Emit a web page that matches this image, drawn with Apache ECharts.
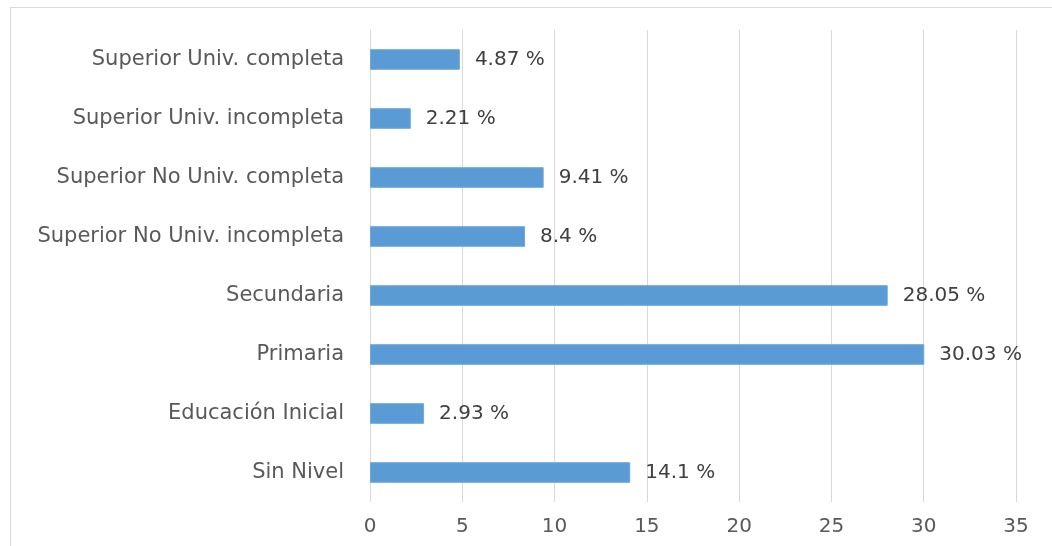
<!DOCTYPE html>
<html>
<head>
<meta charset="utf-8">
<script src="https://cdn.jsdelivr.net/npm/echarts@6/dist/echarts.min.js"></script>
<style>
  html, body { margin: 0; padding: 0; background: #fff; overflow: hidden; }
  #chart { width: 1052px; height: 546px; position: relative; }
  .frame {
    position: absolute;
    left: 10px;
    top: 7px;
    width: 1060px;
    height: 560px;
    border: 1px solid #d9d9d9;
    box-sizing: border-box;
    pointer-events: none;
  }
</style>
</head>
<body>
<div class="frame"></div>
<div id="chart"></div>
<script>
  // niveles educativos, de abajo hacia arriba
  const categories = [
    'Sin Nivel',
    'Educación Inicial',
    'Primaria',
    'Secundaria',
    'Superior No Univ. incompleta',
    'Superior No Univ. completa',
    'Superior Univ. incompleta',
    'Superior Univ. completa'
  ];
  const values = [14.1, 2.93, 30.03, 28.05, 8.4, 9.41, 2.21, 4.87];
  const xMin = 0;
  const xMax = 35;
  const xStep = 5;

  const font = 'DejaVu Sans';

  const chart = echarts.init(document.getElementById('chart'));
  chart.setOption({
    animation: false,
    grid: {
      left: 370,
      right: 36,
      top: 30,
      bottom: 44,
      containLabel: false,
    },
    xAxis: {
      type: 'value',
      min: xMin,
      max: xMax,
      interval: xStep,
      axisLine: {show: false},
      axisTick: {show: false},
      axisLabel: {
        color: '#595959',
        fontFamily: font,
        fontSize: 20,
        margin: 15,
      },
      splitLine: {lineStyle: {color: '#d9d9d9', width: 1}},
    },
    yAxis: {
      type: 'category',
      data: categories,
      axisLine: {show: false},
      axisTick: {show: false},
      axisLabel: {
        color: '#595959',
        fontFamily: font,
        fontSize: 21,
        margin: 26,
      },
    },
    series: [
      {
        type: 'bar',
        data: values,
        barWidth: '35%',
        itemStyle: {color: '#5B9BD5', borderColor: '#6fa8dc', borderWidth: 1},
        label: {
          show: true,
          position: 'right',
          distance: 15,
          color: '#404040',
          fontFamily: font,
          fontSize: 20,
          formatter: (p) => p.value + ' %',
        },
      },
    ],
  });
</script>
</body>
</html>
